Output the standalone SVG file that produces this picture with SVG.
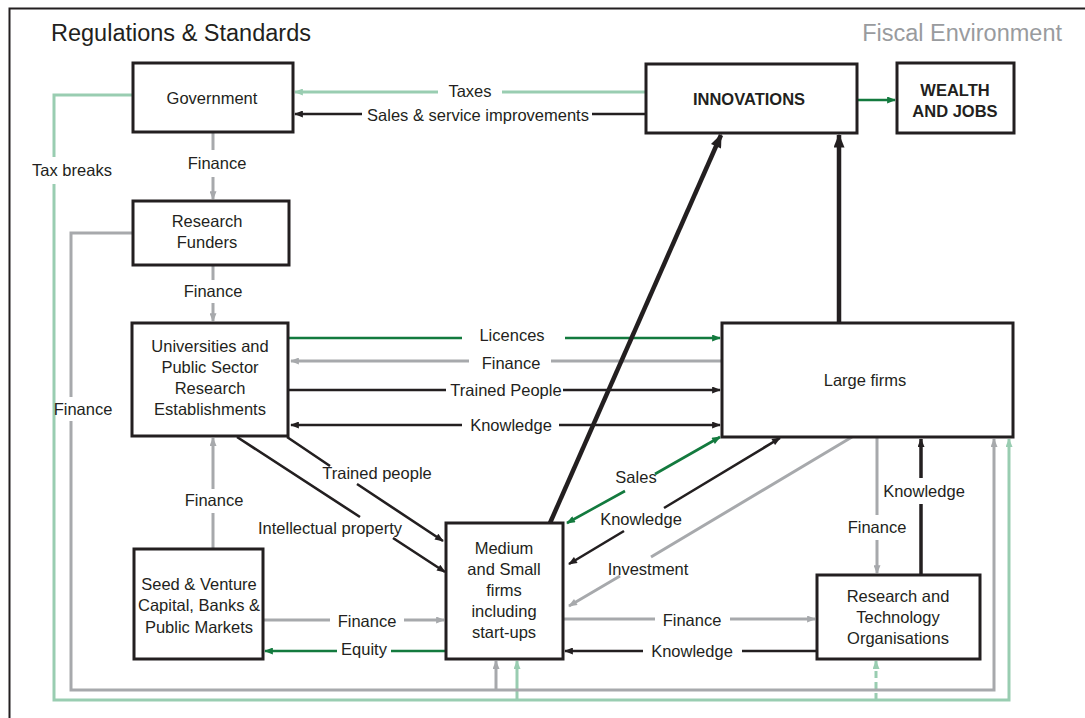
<svg xmlns="http://www.w3.org/2000/svg" width="1085" height="718" viewBox="0 0 1085 718">
  <defs>
    <style>
      .box { fill: #ffffff; stroke: #231f20; stroke-width: 3; }
      .t { font-family: "Liberation Sans", Arial, sans-serif; font-size: 16.5px; fill: #231f20; text-anchor: middle; }
      .b { font-weight: bold; }
      .title { font-family: "Liberation Sans", Arial, sans-serif; font-size: 23.5px; }
      .blk { fill: none; stroke: #231f20; stroke-width: 2.6; }
      .thick { fill: none; stroke: #231f20; stroke-width: 4.5; }
      .gry { fill: none; stroke: #a7a9ac; stroke-width: 3; }
      .dgr { fill: none; stroke: #137a3e; stroke-width: 2.6; }
      .lgr { fill: none; stroke: #99cdb1; stroke-width: 3; }
    </style>
    <marker id="aBlk" viewBox="0 0 10 8" refX="9" refY="4" markerWidth="11" markerHeight="7" markerUnits="userSpaceOnUse" orient="auto-start-reverse">
      <path d="M0,0 L10,4 L0,8 z" fill="#231f20"/>
    </marker>
    <marker id="aThick" viewBox="0 0 10 8" refX="9" refY="4" markerWidth="15" markerHeight="11" markerUnits="userSpaceOnUse" orient="auto-start-reverse">
      <path d="M0,0 L10,4 L0,8 z" fill="#231f20"/>
    </marker>
    <marker id="aGry" viewBox="0 0 10 8" refX="9" refY="4" markerWidth="11" markerHeight="7" markerUnits="userSpaceOnUse" orient="auto-start-reverse">
      <path d="M0,0 L10,4 L0,8 z" fill="#a7a9ac"/>
    </marker>
    <marker id="aDgr" viewBox="0 0 10 8" refX="9" refY="4" markerWidth="11" markerHeight="7" markerUnits="userSpaceOnUse" orient="auto-start-reverse">
      <path d="M0,0 L10,4 L0,8 z" fill="#137a3e"/>
    </marker>
    <marker id="aLgr" viewBox="0 0 10 8" refX="9" refY="4" markerWidth="11" markerHeight="7" markerUnits="userSpaceOnUse" orient="auto-start-reverse">
      <path d="M0,0 L10,4 L0,8 z" fill="#99cdb1"/>
    </marker>
  </defs>

  <rect x="0" y="0" width="1085" height="718" fill="#ffffff"/>

  <!-- frame: top and left rules -->
  <path d="M9.5,718 L9.5,8.5 L1085,8.5" fill="none" stroke="#231f20" stroke-width="2"/>

  <text class="title" x="51" y="41" fill="#231f20">Regulations &amp; Standards</text>
  <text class="title" x="1062" y="41" fill="#999b9e" text-anchor="end">Fiscal Environment</text>

  <g id="connectors">
    <!-- fiscal loop: tax breaks (light green) -->
    <path class="lgr" d="M133,95 L54,95 L54,157 M54,184 L54,700 L1009,700 L1009,439" marker-end="url(#aLgr)"/>
    <path class="lgr" d="M517,700 L517,661" marker-end="url(#aLgr)"/>
    <path class="lgr" d="M876,700 L876,661" stroke-dasharray="7,4" marker-end="url(#aLgr)"/>
    <!-- research funders finance loop (grey) -->
    <path class="gry" d="M133,233 L71,233 L71,397 M71,421 L71,690 L994,690 L994,439" marker-end="url(#aGry)"/>
    <path class="gry" d="M496,690 L496,661" marker-end="url(#aGry)"/>

    <!-- government / innovations -->
    <path class="lgr" d="M646,92 L502,92 M438,92 L295,92" marker-end="url(#aLgr)"/>
    <path class="blk" d="M646,114 L592,114 M362,114 L295,114" marker-end="url(#aBlk)"/>
    <path class="dgr" d="M857,100 L895,100" marker-end="url(#aDgr)"/>

    <!-- finance chain down the left column -->
    <path class="gry" d="M213,133 L213,150 M213,177 L213,199" marker-end="url(#aGry)"/>
    <path class="gry" d="M213,266 L213,280 M213,303 L213,321" marker-end="url(#aGry)"/>
    <path class="gry" d="M213,548 L213,513 M213,489 L213,438" marker-end="url(#aGry)"/>

    <!-- universities <-> large firms -->
    <path class="dgr" d="M289,338 L462,338 M565,338 L720,338" marker-end="url(#aDgr)"/>
    <path class="gry" d="M722,361 L551,361 M469,361 L291,361" marker-end="url(#aGry)"/>
    <path class="blk" d="M289,390 L446,390 M563,390 L720,390" marker-end="url(#aBlk)"/>
    <path class="blk" d="M291,425 L462,425 M559,425 L720,425" marker-start="url(#aBlk)" marker-end="url(#aBlk)"/>

    <!-- universities -> medium & small firms -->
    <path class="blk" d="M287,437 L330,466 M357,484 L443,541" marker-end="url(#aBlk)"/>
    <path class="blk" d="M237,437 L360,517 M393,538 L445,572" marker-end="url(#aBlk)"/>

    <!-- medium & small firms / large firms -> innovations -->
    <path class="thick" d="M550,523 L721,135" marker-end="url(#aThick)"/>
    <path class="thick" d="M839,323 L839,135" marker-end="url(#aThick)"/>

    <!-- large firms <-> medium & small firms -->
    <path class="dgr" d="M567,523 L625,491 M655,474 L720,437" marker-start="url(#aDgr)" marker-end="url(#aDgr)"/>
    <path class="blk" d="M569,564 L624,531 M664,508 L780,438" marker-start="url(#aBlk)" marker-end="url(#aBlk)"/>
    <path class="gry" d="M852,437 L651,557 M620,576 L569,606" marker-end="url(#aGry)"/>

    <!-- seed & venture <-> medium & small firms -->
    <path class="gry" d="M264,620 L330,620 M404,620 L444,620" marker-end="url(#aGry)"/>
    <path class="dgr" d="M446,651 L391,651 M337,651 L265,651" marker-end="url(#aDgr)"/>

    <!-- medium & small firms <-> RTOs -->
    <path class="gry" d="M564,619 L655,619 M730,619 L815,619" marker-end="url(#aGry)"/>
    <path class="blk" d="M817,651 L742,651 M643,651 L565,651" marker-end="url(#aBlk)"/>

    <!-- large firms <-> RTOs -->
    <path class="gry" d="M877,437 L877,515 M877,540 L877,573" marker-end="url(#aGry)"/>
    <path class="thick" style="stroke-width:3.5" d="M921,575 L921,504 M921,478 L921,439" marker-end="url(#aBlk)"/>
  </g>

  <g id="connector-labels">
    <text class="t" x="72" y="176">Tax breaks</text>
    <text class="t" x="83" y="415">Finance</text>
    <text class="t" x="470" y="97">Taxes</text>
    <text class="t" x="478" y="121">Sales &amp; service improvements</text>
    <text class="t" x="217" y="169">Finance</text>
    <text class="t" x="213" y="297">Finance</text>
    <text class="t" x="214" y="506">Finance</text>
    <text class="t" x="512" y="341">Licences</text>
    <text class="t" x="511" y="369">Finance</text>
    <text class="t" x="506" y="396">Trained People</text>
    <text class="t" x="511" y="431">Knowledge</text>
    <text class="t" x="377" y="479">Trained people</text>
    <text class="t" x="330" y="534">Intellectual property</text>
    <text class="t" x="636" y="483">Sales</text>
    <text class="t" x="641" y="525">Knowledge</text>
    <text class="t" x="648" y="575">Investment</text>
    <text class="t" x="367" y="627">Finance</text>
    <text class="t" x="364" y="655">Equity</text>
    <text class="t" x="692" y="626">Finance</text>
    <text class="t" x="692" y="657">Knowledge</text>
    <text class="t" x="924" y="497">Knowledge</text>
    <text class="t" x="877" y="533">Finance</text>
  </g>

  <g id="government">
    <rect class="box" x="133" y="63" width="160" height="69"/>
    <text class="t" x="212" y="104">Government</text>
  </g>
  <g id="innovations">
    <rect class="box" x="646" y="64" width="211" height="69"/>
    <text class="t b" x="749" y="105">INNOVATIONS</text>
  </g>
  <g id="wealth-and-jobs">
    <rect class="box" x="897" y="63" width="117" height="70"/>
    <text class="t b" x="955" y="96">WEALTH</text>
    <text class="t b" x="955" y="117">AND JOBS</text>
  </g>
  <g id="research-funders">
    <rect class="box" x="133" y="201" width="156" height="64"/>
    <text class="t" x="207" y="227">Research</text>
    <text class="t" x="207" y="248">Funders</text>
  </g>
  <g id="universities">
    <rect class="box" x="132" y="323" width="156" height="113"/>
    <text class="t" x="210" y="352">Universities and</text>
    <text class="t" x="210" y="373">Public Sector</text>
    <text class="t" x="210" y="394">Research</text>
    <text class="t" x="210" y="415">Establishments</text>
  </g>
  <g id="large-firms">
    <rect class="box" x="722" y="323" width="291" height="114"/>
    <text class="t" x="865" y="386">Large firms</text>
  </g>
  <g id="medium-small-firms">
    <rect class="box" x="446" y="523" width="117" height="136"/>
    <text class="t" x="504" y="554">Medium</text>
    <text class="t" x="504" y="575">and Small</text>
    <text class="t" x="504" y="596">firms</text>
    <text class="t" x="504" y="617">including</text>
    <text class="t" x="504" y="638">start-ups</text>
  </g>
  <g id="seed-venture">
    <rect class="box" x="134" y="549" width="129" height="110"/>
    <text class="t" x="199" y="590">Seed &amp; Venture</text>
    <text class="t" x="199" y="611">Capital, Banks &amp;</text>
    <text class="t" x="199" y="633">Public Markets</text>
  </g>
  <g id="rto">
    <rect class="box" x="817" y="575" width="163" height="84"/>
    <text class="t" x="898" y="602">Research and</text>
    <text class="t" x="898" y="623">Technology</text>
    <text class="t" x="898" y="644">Organisations</text>
  </g>
</svg>
